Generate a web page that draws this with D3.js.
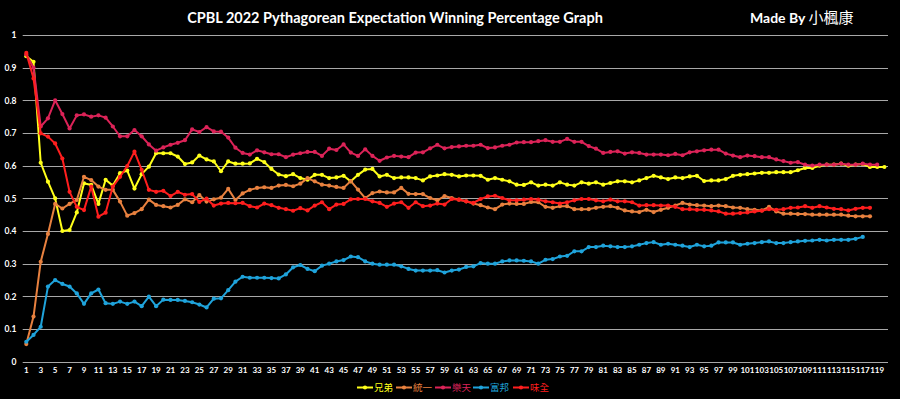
<!DOCTYPE html>
<html><head><meta charset="utf-8">
<script src="https://cdn.jsdelivr.net/npm/d3@7"></script>
<style>html,body{margin:0;padding:0;background:#000;overflow:hidden}svg{display:block}</style>
</head><body>
<svg id="chart" width="900" height="399"></svg>
<script>
// ---- data ----
const teams = ["兄弟", "統一", "樂天", "富邦", "味全"];
const teamColors = ["#FFFF1A", "#E8813F", "#DC2358", "#1FA3DB", "#FF1E1E"];
const yTicks = [0, 0.1, 0.2, 0.3, 0.4, 0.5, 0.6, 0.7, 0.8, 0.9, 1];
const games = d3.range(1, 121);
const xTickLabels = games.filter(g => g % 2 === 1);

const brothers = [
  0.935,0.918,0.609,0.551,0.500,0.400,0.403,0.457,0.546,0.541,
  0.483,0.557,0.539,0.577,0.585,0.530,0.574,0.597,0.638,0.638,
  0.638,0.628,0.605,0.610,0.631,0.619,0.613,0.583,0.613,0.606,
  0.606,0.607,0.621,0.611,0.590,0.573,0.568,0.574,0.562,0.557,
  0.572,0.572,0.562,0.564,0.569,0.552,0.572,0.588,0.590,0.567,
  0.572,0.562,0.564,0.564,0.562,0.555,0.567,0.570,0.574,0.572,
  0.567,0.570,0.570,0.569,0.557,0.562,0.557,0.552,0.542,0.541,
  0.549,0.539,0.542,0.539,0.549,0.542,0.539,0.549,0.545,0.549,
  0.542,0.547,0.552,0.552,0.549,0.555,0.562,0.569,0.564,0.559,
  0.564,0.562,0.567,0.569,0.553,0.555,0.555,0.559,0.569,0.572,
  0.574,0.576,0.578,0.578,0.580,0.580,0.580,0.586,0.593,0.593,
  0.600,0.603,0.603,0.606,0.600,0.603,0.605,0.596,0.596,0.596
];
const lions = [
  0.054,0.138,0.306,0.391,0.483,0.469,0.483,0.495,0.566,0.556,
  0.536,0.526,0.526,0.490,0.447,0.455,0.467,0.496,0.480,0.476,
  0.472,0.480,0.497,0.488,0.510,0.490,0.497,0.502,0.529,0.495,
  0.515,0.526,0.532,0.534,0.532,0.539,0.541,0.537,0.545,0.562,
  0.552,0.542,0.539,0.535,0.532,0.553,0.527,0.501,0.516,0.521,
  0.518,0.518,0.532,0.514,0.513,0.513,0.501,0.494,0.507,0.501,
  0.496,0.491,0.484,0.479,0.472,0.467,0.481,0.484,0.483,0.483,
  0.489,0.488,0.474,0.471,0.476,0.476,0.467,0.467,0.467,0.471,
  0.474,0.476,0.471,0.463,0.460,0.458,0.465,0.458,0.465,0.471,
  0.478,0.486,0.481,0.479,0.478,0.476,0.478,0.476,0.472,0.471,
  0.467,0.465,0.463,0.474,0.460,0.453,0.453,0.452,0.452,0.450,
  0.450,0.450,0.450,0.450,0.447,0.445,0.445,0.445
];
const rakuten = [
  0.940,0.900,0.720,0.745,0.800,0.758,0.714,0.754,0.757,0.750,
  0.754,0.747,0.720,0.690,0.690,0.709,0.690,0.665,0.646,0.656,
  0.664,0.670,0.678,0.711,0.703,0.718,0.705,0.704,0.686,0.655,
  0.639,0.634,0.647,0.641,0.635,0.635,0.626,0.634,0.638,0.642,
  0.642,0.630,0.652,0.648,0.665,0.640,0.630,0.650,0.630,0.615,
  0.625,0.630,0.628,0.626,0.640,0.641,0.653,0.664,0.653,0.657,
  0.659,0.661,0.661,0.664,0.654,0.656,0.661,0.664,0.671,0.672,
  0.672,0.675,0.678,0.673,0.673,0.682,0.673,0.673,0.660,0.652,
  0.639,0.642,0.644,0.637,0.641,0.639,0.634,0.634,0.634,0.632,
  0.636,0.632,0.641,0.644,0.647,0.649,0.649,0.637,0.631,0.626,
  0.631,0.629,0.626,0.626,0.619,0.614,0.609,0.611,0.603,0.600,
  0.603,0.603,0.603,0.606,0.603,0.603,0.606,0.603,0.603
];
const fubon = [
  0.061,0.082,0.107,0.230,0.250,0.238,0.230,0.209,0.177,0.209,
  0.221,0.179,0.177,0.184,0.177,0.184,0.170,0.199,0.170,0.190,
  0.189,0.189,0.186,0.182,0.175,0.166,0.193,0.194,0.219,0.245,
  0.260,0.257,0.257,0.257,0.256,0.255,0.267,0.289,0.296,0.284,
  0.277,0.294,0.300,0.307,0.311,0.322,0.320,0.307,0.300,0.297,
  0.297,0.297,0.292,0.284,0.279,0.279,0.279,0.280,0.273,0.279,
  0.282,0.290,0.292,0.302,0.300,0.300,0.307,0.310,0.310,0.309,
  0.307,0.300,0.312,0.314,0.322,0.324,0.338,0.338,0.351,0.351,
  0.355,0.353,0.351,0.351,0.353,0.358,0.363,0.366,0.358,0.361,
  0.358,0.355,0.351,0.358,0.353,0.355,0.365,0.365,0.365,0.358,
  0.361,0.363,0.366,0.368,0.363,0.363,0.366,0.368,0.370,0.371,
  0.373,0.371,0.373,0.373,0.373,0.376,0.382
];
const weichuan = [
  0.945,0.867,0.699,0.689,0.668,0.622,0.520,0.474,0.464,0.536,
  0.444,0.456,0.536,0.566,0.599,0.643,0.587,0.526,0.520,0.523,
  0.507,0.520,0.511,0.513,0.489,0.499,0.478,0.484,0.486,0.485,
  0.486,0.476,0.472,0.484,0.479,0.471,0.467,0.462,0.470,0.463,
  0.478,0.488,0.467,0.481,0.483,0.497,0.498,0.498,0.491,0.486,
  0.474,0.484,0.488,0.471,0.488,0.476,0.478,0.484,0.481,0.498,
  0.496,0.491,0.486,0.498,0.506,0.508,0.501,0.494,0.494,0.496,
  0.498,0.496,0.491,0.488,0.484,0.488,0.494,0.498,0.498,0.494,
  0.491,0.496,0.491,0.491,0.488,0.478,0.479,0.479,0.478,0.478,
  0.474,0.467,0.467,0.465,0.465,0.463,0.460,0.453,0.453,0.455,
  0.457,0.460,0.462,0.467,0.465,0.467,0.471,0.472,0.476,0.471,
  0.476,0.472,0.468,0.467,0.463,0.468,0.471,0.471
];
const seriesValues = [brothers, lions, rakuten, fubon, weichuan];

// ---- chart ----
const svg = d3.select("#chart");
svg.append("rect").attr("width", 900).attr("height", 399).attr("fill", "#000");

const plotLeft = 22.7, plotRight = 888, plotTop = 35, plotBottom = 361.7;
const x = d3.scaleBand().domain(games).range([plotLeft, plotRight]);
const cx = g => x(g) + x.bandwidth() / 2;
const y = d3.scaleLinear().domain([0, 1]).range([plotBottom, plotTop]);

// gridlines
svg.append("g").selectAll("line").data(yTicks).join("line")
  .attr("x1", plotLeft).attr("x2", plotRight)
  .attr("y1", d => Math.round(y(d)) + 0.5).attr("y2", d => Math.round(y(d)) + 0.5)
  .attr("stroke", "#a8a8a8").attr("stroke-width", 1);

// y axis labels
const yAxis = d3.axisLeft(y).tickValues(yTicks).tickSize(0).tickPadding(0)
  .tickFormat(d => d3.format("~g")(d));
const yg = svg.append("g").attr("transform", `translate(16.5,0)`).call(yAxis);
yg.select(".domain").remove();
yg.selectAll("text").attr("fill", "#fff").attr("font-family", "Lato, 'DejaVu Sans', sans-serif")
  .attr("font-weight", "bold").attr("font-size", "8.5px").attr("dy", "0.32em");

// x axis labels
const xAxis = d3.axisBottom(x).tickValues(xTickLabels).tickSize(0).tickPadding(0);
const xg = svg.append("g").attr("transform", `translate(0,${plotBottom + 6})`).call(xAxis);
xg.select(".domain").remove();
xg.selectAll("text").attr("fill", "#fff").attr("font-family", "Lato, 'DejaVu Sans', sans-serif")
  .attr("font-weight", "bold").attr("font-size", "8px");

// lines
const line = d3.line().x((d, i) => cx(games[i])).y(d => y(d));
seriesValues.forEach((vals, si) => {
  const g = svg.append("g");
  g.append("path").datum(vals).attr("d", line).attr("fill", "none")
    .attr("stroke", teamColors[si]).attr("stroke-width", 2).attr("stroke-linejoin", "round");
  g.selectAll("circle").data(vals).join("circle")
    .attr("cx", (d, i) => cx(games[i])).attr("cy", d => y(d)).attr("r", 2.1)
    .attr("fill", teamColors[si]);
});

// title
const title = svg.append("text").attr("x", 395).attr("y", 23).attr("text-anchor", "middle")
  .attr("fill", "#fff").attr("font-family", "Lato, 'Open Sans', sans-serif").attr("font-weight", "bold")
  .attr("font-size", "15px").text("CPBL 2022 Pythagorean Expectation Winning Percentage Graph");
{
  const w = title.node().getComputedTextLength();
  title.attr("font-size", (15 * 416 / w).toFixed(2) + "px");
}
const made = svg.append("text").attr("x", 750).attr("y", 23).attr("fill", "#fff");
made.append("tspan").attr("font-family", "Lato, sans-serif").attr("font-weight", "bold")
  .attr("font-size", "14px").text("Made By ");
made.append("tspan").attr("font-family", "'Noto Sans CJK TC', sans-serif").attr("font-weight", "normal")
  .attr("font-size", "15px").text("小楓康");

// legend
const legendStart = 357, legendY = 387.5;
const legendSpacing = [0, 39, 78, 116, 156];
const lg = svg.append("g");
teams.forEach((t, i) => {
  const lx = legendStart + legendSpacing[i];
  lg.append("line").attr("x1", lx).attr("x2", lx + 16).attr("y1", legendY).attr("y2", legendY)
    .attr("stroke", teamColors[i]).attr("stroke-width", 2);
  lg.append("circle").attr("cx", lx + 8).attr("cy", legendY).attr("r", 2.1).attr("fill", teamColors[i]);
  lg.append("text").attr("x", lx + 17).attr("y", legendY + 3.5).attr("fill", teamColors[i])
    .attr("font-family", "'Noto Sans CJK TC', sans-serif").attr("font-size", "9.5px").text(t);
});
</script>
</body></html>
